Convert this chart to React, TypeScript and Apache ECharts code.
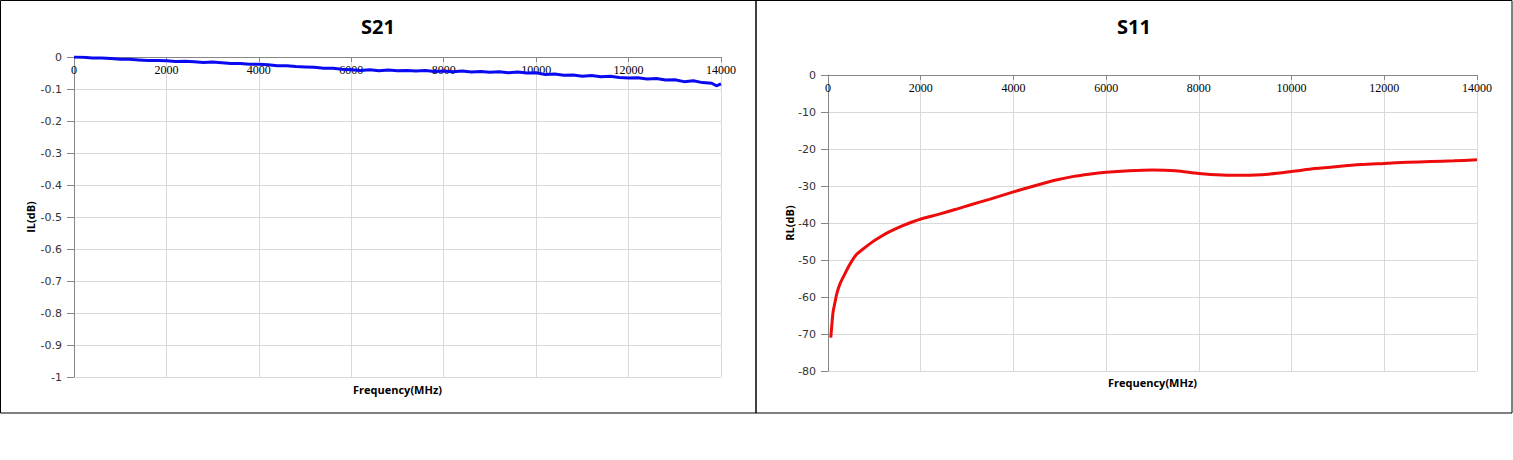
import React, { useEffect, useRef } from "react";
import * as echarts from "echarts";

// S21 insertion loss (dB) vs frequency (MHz)
const s21Freq = [
  0, 200, 400, 600, 800, 1000, 1200, 1400, 1600, 1800,
  2000, 2200, 2400, 2600, 2800, 3000, 3200, 3400, 3600, 3800,
  4000, 4200, 4400, 4600, 4800, 5000, 5200, 5400, 5600, 5800,
  6000, 6200, 6400, 6600, 6800, 7000, 7200, 7400, 7600, 7800,
  8000, 8200, 8400, 8600, 8800, 9000, 9200, 9400, 9600, 9800,
  10000, 10200, 10400, 10600, 10800, 11000, 11200, 11400, 11600, 11800,
  12000, 12200, 12400, 12600, 12800, 13000, 13200, 13400, 13600, 13800,
  13900, 14000,
];
const s21Loss = [
  0.0, -0.001, -0.003, -0.003, -0.005, -0.007, -0.007, -0.009, -0.011, -0.011,
  -0.012, -0.014, -0.013, -0.015, -0.017, -0.016, -0.018, -0.02, -0.02, -0.023,
  -0.023, -0.024, -0.027, -0.027, -0.03, -0.031, -0.032, -0.035, -0.035, -0.038,
  -0.04, -0.042, -0.04, -0.043, -0.041, -0.043, -0.042, -0.044, -0.042, -0.045,
  -0.044, -0.046, -0.044, -0.047, -0.045, -0.048, -0.046, -0.049, -0.047, -0.05,
  -0.049, -0.055, -0.053, -0.057, -0.056, -0.06, -0.058, -0.062, -0.06, -0.064,
  -0.066, -0.065, -0.069, -0.067, -0.072, -0.071, -0.077, -0.074, -0.08, -0.082,
  -0.09, -0.084,
];

// S11 return loss (dB) vs frequency (MHz)
const s11Freq = [
  60, 80, 110, 150, 190, 260, 350, 460, 600, 750, 960, 1150, 1320, 1600, 1800,
  2040, 2400, 2760, 3100, 3480, 4000, 4500, 4920, 5300, 5630, 6000, 6500, 7000,
  7500, 8000, 8500, 9000, 9500, 10000, 10500, 11000, 11500, 12000, 12500,
  13000, 13500, 14000,
];
const s11Loss = [
  -71, -68, -64, -61.5, -59.1, -56.4, -54.1, -51.4, -48.7, -47.1, -45.1, -43.6,
  -42.4, -40.8, -39.8, -38.8, -37.6, -36.3, -35.0, -33.6, -31.6, -29.8, -28.4,
  -27.4, -26.8, -26.3, -25.9, -25.7, -25.9, -26.6, -27.0, -27.1, -26.8, -26.1,
  -25.3, -24.7, -24.2, -23.9, -23.6, -23.4, -23.2, -22.9,
];

const titles = ["S21", "S11"];
const yNames = ["IL(dB)", "RL(dB)"];
const xName = "Frequency(MHz)";

export default function App() {
  const ref = useRef<HTMLDivElement>(null);

  useEffect(() => {
    if (!ref.current) return;
    const chart = echarts.init(ref.current, undefined, { renderer: "svg" });

    const axisGray = "#868686";
    const gridGray = "#d9d9d9";

    const xAxisBase = (gridIndex: number) => ({
      type: "value",
      gridIndex,
      min: 0,
      max: 14000,
      interval: 2000,
      position: "top",
      axisLine: { show: true, onZero: false, lineStyle: { color: axisGray, width: 1 } },
      axisTick: { show: true, inside: true, length: 5, lineStyle: { color: axisGray } },
      axisLabel: {
        inside: true,
        margin: 7,
        color: "#000",
        fontFamily: "Liberation Serif",
        fontSize: 12,
        formatter: (v: number) => String(v),
      },
      splitLine: { show: true, lineStyle: { color: gridGray, width: 1 } },
    });

    const yAxisBase = (gridIndex: number, min: number, interval: number) => ({
      type: "value",
      gridIndex,
      min,
      max: 0,
      interval,
      axisLine: { show: true, onZero: false, lineStyle: { color: axisGray, width: 1 } },
      axisTick: { show: true, length: 7, lineStyle: { color: axisGray } },
      axisLabel: {
        margin: 12,
        color: "#333",
        fontFamily: "DejaVu Sans",
        fontSize: 11,
      },
      splitLine: { show: true, lineStyle: { color: gridGray, width: 1 } },
    });

    const textEl = (
      text: string,
      x: number,
      y: number,
      font: string,
      rotation = 0
    ) => ({
      type: "text",
      x,
      y,
      rotation,
      silent: true,
      style: {
        text,
        font,
        fill: "#000",
        align: "center",
        verticalAlign: "middle",
        textAlign: "center",
        textVerticalAlign: "middle",
      },
    });

    const titleFont = "bold 20px 'Open Sans', sans-serif";
    const nameFont = "bold 11px 'Open Sans', sans-serif";

    chart.setOption({
      animation: false,
      grid: [
        { left: 74, top: 57, width: 647, height: 320, containLabel: false },
        { left: 828, top: 75, width: 649, height: 296, containLabel: false },
      ],
      xAxis: [xAxisBase(0), xAxisBase(1)],
      yAxis: [yAxisBase(0, -1, 0.1), yAxisBase(1, -80, 10)],
      series: [
        {
          type: "line",
          xAxisIndex: 0,
          yAxisIndex: 0,
          data: s21Freq.map((f, i) => [f, s21Loss[i]]),
          showSymbol: false,
          symbol: "none",
          lineStyle: { color: "#0a0af0", width: 3 },
          z: 5,
        },
        {
          type: "line",
          xAxisIndex: 1,
          yAxisIndex: 1,
          data: s11Freq.map((f, i) => [f, s11Loss[i]]),
          showSymbol: false,
          symbol: "none",
          smooth: 0.3,
          lineStyle: { color: "#ec0c0c", width: 3 },
          z: 5,
        },
      ],
      graphic: [
        {
          type: "rect",
          silent: true,
          shape: { x: 0.5, y: 0.5, width: 755.5, height: 412.5 },
          style: { fill: "none", stroke: "#000", lineWidth: 1 },
        },
        {
          type: "rect",
          silent: true,
          shape: { x: 756, y: 0.5, width: 756, height: 412.5 },
          style: { fill: "none", stroke: "#000", lineWidth: 1 },
        },
        textEl(titles[0], 378, 26, titleFont),
        textEl(titles[1], 1134, 26, titleFont),
        textEl(yNames[0], 30, 217, nameFont, Math.PI / 2),
        textEl(yNames[1], 789, 223, nameFont, Math.PI / 2),
        textEl(xName, 397.5, 389, nameFont),
        textEl(xName, 1152.5, 382, nameFont),
      ],
    });

    return () => chart.dispose();
  }, []);

  return (
    <div
      ref={ref}
      style={{ position: "absolute", left: 0, top: 0, width: 1513, height: 460, background: "#fff" }}
    />
  );
}
